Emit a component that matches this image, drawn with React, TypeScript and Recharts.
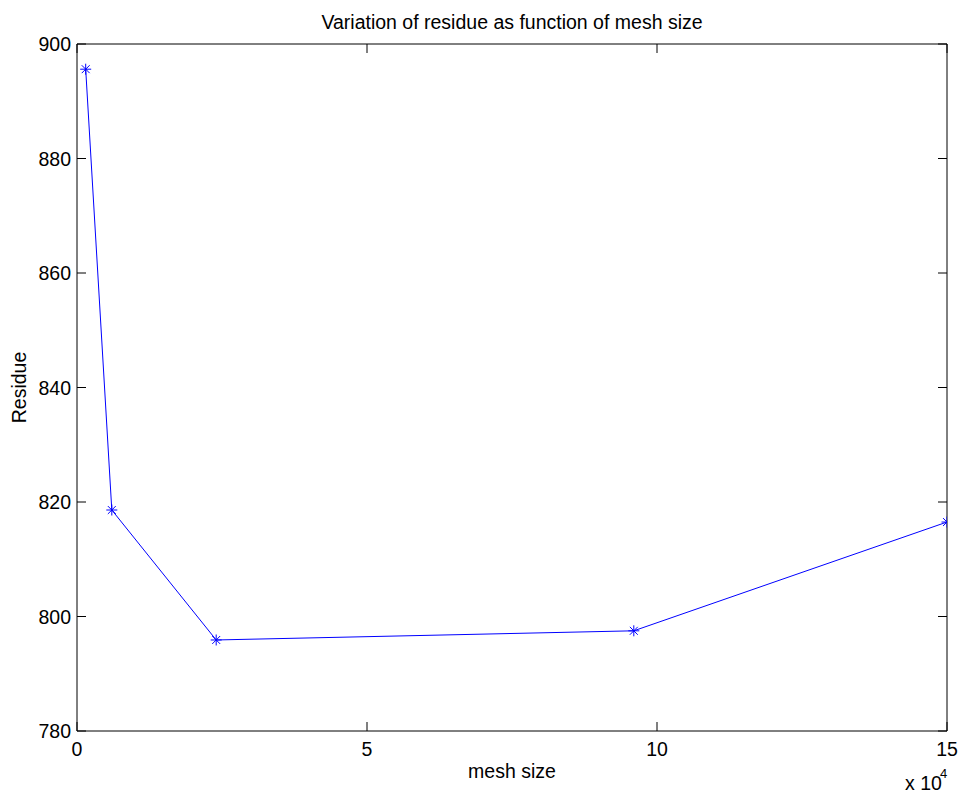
import React from 'react';
import { Label, Line, LineChart, XAxis, YAxis } from 'recharts';

const meshSize = [1500, 6000, 24000, 96000, 150000];
const residue = [895.6, 818.6, 795.9, 797.5, 816.5];
const xTicks = [0, 50000, 100000, 150000];
const yTicks = [780, 800, 820, 840, 860, 880, 900];

const data = meshSize.map((m, i) => ({ mesh: m, residue: residue[i] }));

const FONT = '"Liberation Sans", Arial, Helvetica, sans-serif';
const FS = 19.5;
const TICK = 9;
const BLUE = '#0000ff';

const BottomTick = (p: any) => (
  <g>
    <line x1={p.x} x2={p.x} y1={p.y} y2={p.y - TICK} stroke="#000" />
    <text x={p.x} y={p.y + 25} textAnchor="middle" fontFamily={FONT} fontSize={FS} fill="#000">
      {p.payload.value / 10000}
    </text>
  </g>
);

const TopTick = (p: any) => (
  <line x1={p.x} x2={p.x} y1={p.y} y2={p.y + TICK} stroke="#000" />
);

const LeftTick = (p: any) => (
  <g>
    <line x1={p.x} x2={p.x + TICK} y1={p.y} y2={p.y} stroke="#000" />
    <text x={p.x - 6} y={p.y} dy="0.36em" textAnchor="end" fontFamily={FONT} fontSize={FS} fill="#000">
      {p.payload.value}
    </text>
  </g>
);

const RightTick = (p: any) => (
  <line x1={p.x} x2={p.x - TICK} y1={p.y} y2={p.y} stroke="#000" />
);

const Star = (p: any) => {
  const { cx, cy } = p;
  if (cx == null || cy == null) return null;
  const r = 5.5;
  const d = r * 0.72;
  return (
    <g stroke={BLUE} strokeWidth={1}>
      <line x1={cx - r} x2={cx + r} y1={cy} y2={cy} />
      <line x1={cx} x2={cx} y1={cy - r} y2={cy + r} />
      <line x1={cx - d} x2={cx + d} y1={cy - d} y2={cy + d} />
      <line x1={cx - d} x2={cx + d} y1={cy + d} y2={cy - d} />
    </g>
  );
};

export default function App() {
  return (
    <div style={{ position: 'absolute', left: 0, top: 0, width: 961, height: 795, background: '#fff' }}>
      <LineChart width={961} height={795} data={data} margin={{ top: 0, right: 0, bottom: 0, left: 0 }}>
        <XAxis
          xAxisId="top"
          orientation="top"
          dataKey="mesh"
          type="number"
          domain={[0, 150000]}
          ticks={xTicks}
          interval={0}
          height={44}
          allowDataOverflow
          tickSize={0}
          tickMargin={0}
          tickLine={false}
          axisLine={{ stroke: '#000' }}
          tick={TopTick}
        >
          <Label
            content={(props: any) => {
              const vb = props.viewBox;
              return (
                <text x={vb.x + vb.width / 2} y={29} textAnchor="middle" fontFamily={FONT} fontSize={FS} fill="#000">
                  Variation of residue as function of mesh size
                </text>
              );
            }}
          />
        </XAxis>
        <XAxis
          xAxisId="bottom"
          dataKey="mesh"
          type="number"
          domain={[0, 150000]}
          ticks={xTicks}
          interval={0}
          height={64}
          allowDataOverflow
          tickSize={0}
          tickMargin={0}
          tickLine={false}
          axisLine={{ stroke: '#000' }}
          tick={BottomTick}
        >
          <Label
            content={(props: any) => {
              const vb = props.viewBox;
              const right = vb.x + vb.width;
              return (
                <g fontFamily={FONT} fill="#000">
                  <text x={vb.x + vb.width / 2} y={vb.y + 47} textAnchor="middle" fontSize={FS}>
                    mesh size
                  </text>
                  <text x={right - 42} y={vb.y + 59} fontSize={FS}>
                    x 10
                  </text>
                  <text x={right - 7} y={vb.y + 47} fontSize={13}>
                    4
                  </text>
                </g>
              );
            }}
          />
        </XAxis>
        <YAxis
          yAxisId="left"
          dataKey="residue"
          type="number"
          domain={[780, 900]}
          ticks={yTicks}
          interval={0}
          width={77}
          allowDataOverflow
          tickSize={0}
          tickMargin={0}
          tickLine={false}
          axisLine={{ stroke: '#000' }}
          tick={LeftTick}
        >
          <Label
            content={(props: any) => {
              const vb = props.viewBox;
              const cy = vb.y + vb.height / 2;
              return (
                <text
                  x={25.5}
                  y={cy}
                  transform={`rotate(-90 25.5 ${cy})`}
                  textAnchor="middle"
                  fontFamily={FONT}
                  fontSize={FS}
                  fill="#000"
                >
                  Residue
                </text>
              );
            }}
          />
        </YAxis>
        <YAxis
          yAxisId="right"
          orientation="right"
          dataKey="residue"
          type="number"
          domain={[780, 900]}
          ticks={yTicks}
          interval={0}
          width={14}
          allowDataOverflow
          tickSize={0}
          tickMargin={0}
          tickLine={false}
          axisLine={{ stroke: '#000' }}
          tick={RightTick}
        />
        <Line
          xAxisId="bottom"
          yAxisId="left"
          type="linear"
          dataKey="residue"
          stroke={BLUE}
          strokeWidth={1}
          dot={Star}
          activeDot={false}
          isAnimationActive={false}
        />
      </LineChart>
    </div>
  );
}
